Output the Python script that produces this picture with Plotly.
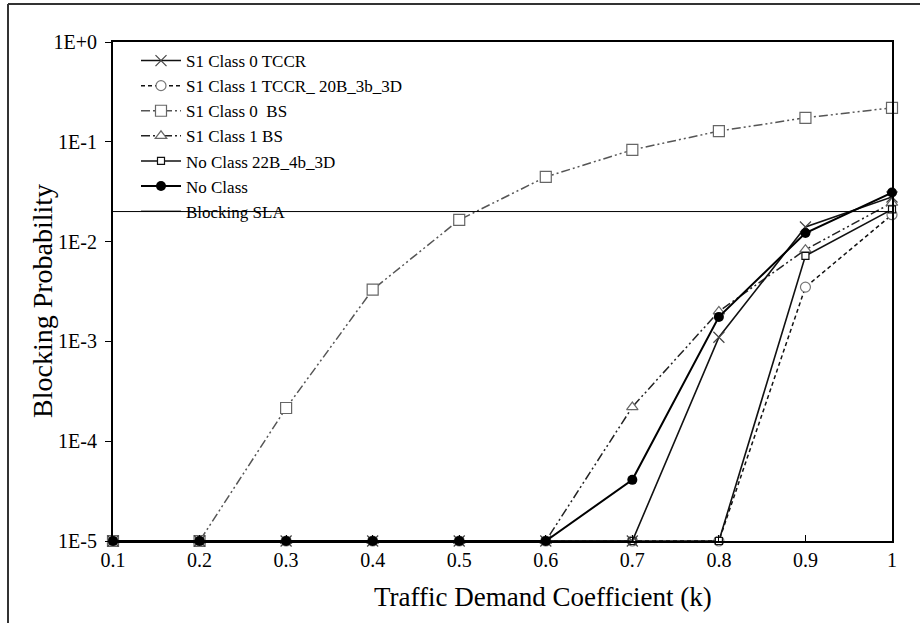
import plotly.graph_objects as go

k = [0.1, 0.2, 0.3, 0.4, 0.5, 0.6, 0.7, 0.8, 0.9, 1.0]
k_labels = ["0.1", "0.2", "0.3", "0.4", "0.5", "0.6", "0.7", "0.8", "0.9", "1"]

s1_class0_tccr = [1e-5, 1e-5, 1e-5, 1e-5, 1e-5, 1e-5, 1e-5, 1.1e-3, 0.014, 0.028]
s1_class1_tccr = [1e-5, 1e-5, 1e-5, 1e-5, 1e-5, 1e-5, 1e-5, 1e-5, 3.5e-3, 0.0186]
s1_class0_bs = [1e-5, 1e-5, 2.15e-4, 3.3e-3, 0.0165, 0.0445, 0.083, 0.128, 0.174, 0.219]
s1_class1_bs = [1e-5, 1e-5, 1e-5, 1e-5, 1e-5, 1e-5, 2.2e-4, 2.0e-3, 8.3e-3, 0.0245]
no_class_22b = [1e-5, 1e-5, 1e-5, 1e-5, 1e-5, 1e-5, 1e-5, 1e-5, 7.2e-3, 0.021]
no_class = [1e-5, 1e-5, 1e-5, 1e-5, 1e-5, 1e-5, 4.1e-5, 1.76e-3, 0.0122, 0.031]
sla_value = 0.02

y_tickvals = [1e-5, 1e-4, 1e-3, 1e-2, 1e-1, 1]
y_ticktext = ["1E-5", "1E-4", "1E-3", "1E-2", "1E-1", "1E+0"]

FONT = "Liberation Serif"
DASHDOTDOT = "9px,3px,2px,3px,2px,3px"

fig = go.Figure()

fig.add_trace(go.Scatter(
    x=k, y=s1_class0_bs, name="S1 Class 0  BS", mode="lines+markers",
    line=dict(color="#555555", width=1.5, dash=DASHDOTDOT),
    marker=dict(symbol="square", size=11, color="white", line=dict(color="#666666", width=1.2)),
    cliponaxis=False, legendrank=3))

fig.add_trace(go.Scatter(
    x=k, y=s1_class1_bs, name="S1 Class 1 BS", mode="lines+markers",
    line=dict(color="#222222", width=1.5, dash=DASHDOTDOT),
    marker=dict(symbol="triangle-up", size=10, color="white", line=dict(color="#666666", width=1.2)),
    cliponaxis=False, legendrank=4))

fig.add_trace(go.Scatter(
    x=k, y=s1_class1_tccr, name="S1 Class 1 TCCR_ 20B_3b_3D", mode="lines+markers",
    line=dict(color="#111111", width=1.5, dash="4px,3px"),
    marker=dict(symbol="circle", size=10, color="white", line=dict(color="#777777", width=1.2)),
    cliponaxis=False, legendrank=2))

fig.add_trace(go.Scatter(
    x=k, y=no_class_22b, name="No Class 22B_4b_3D", mode="lines+markers",
    line=dict(color="#111111", width=1.6),
    marker=dict(symbol="square", size=7, color="white", line=dict(color="#111111", width=1.2)),
    cliponaxis=False, legendrank=5))

fig.add_trace(go.Scatter(
    x=k, y=s1_class0_tccr, name="S1 Class 0 TCCR", mode="lines+markers",
    line=dict(color="#111111", width=1.6),
    marker=dict(symbol="x-thin", size=11, line=dict(color="#444444", width=1.2)),
    cliponaxis=False, legendrank=1))

fig.add_trace(go.Scatter(
    x=k, y=no_class, name="No Class", mode="lines+markers",
    line=dict(color="black", width=2),
    marker=dict(symbol="circle", size=10, color="black"),
    cliponaxis=False, legendrank=6))

fig.add_trace(go.Scatter(
    x=[k[0], k[-1]], y=[sla_value, sla_value], name="Blocking SLA", mode="lines",
    line=dict(color="black", width=1), legendrank=7))

L, R, T, B = 113, 28, 42, 82
W, H = 920, 623
pw = W - L - R
ph = H - T - B

def px2paper_x(px):
    return (px - L) / pw

def px2paper_y(py):
    return (H - B - py) / ph

fig.update_layout(
    width=W, height=H,
    margin=dict(l=L, r=R, t=T, b=B),
    paper_bgcolor="white", plot_bgcolor="white",
    font=dict(family=FONT, color="black", size=17),
    showlegend=True,
    legend=dict(x=px2paper_x(136), y=px2paper_y(43), xanchor="left", yanchor="top",
                bgcolor="rgba(0,0,0,0)", font=dict(family=FONT, size=17),
                tracegroupgap=0, itemwidth=40),
    xaxis=dict(range=[0.1, 1.0], tickvals=k, ticktext=k_labels,
               showgrid=False, zeroline=False, showline=True, linecolor="black",
               linewidth=2, mirror=True, ticks="inside", ticklen=6, tickcolor="black",
               tickfont=dict(family=FONT, size=20)),
    yaxis=dict(type="log", range=[-5, 0], tickvals=y_tickvals, ticktext=y_ticktext,
               showgrid=False, zeroline=False, showline=True, linecolor="black",
               linewidth=2, mirror=True, ticks="outside", ticklen=6, tickcolor="black",
               ticklabelstandoff=4, tickfont=dict(family=FONT, size=20)),
    annotations=[
        dict(text="Traffic Demand Coefficient (k)", xref="paper", yref="paper",
             x=px2paper_x(543), y=px2paper_y(597), xanchor="center", yanchor="middle",
             showarrow=False, font=dict(family=FONT, size=27)),
        dict(text="Blocking Probability", xref="paper", yref="paper",
             x=px2paper_x(42), y=px2paper_y(301), xanchor="center", yanchor="middle",
             textangle=-90, showarrow=False, font=dict(family=FONT, size=28)),
    ],
    shapes=[
        dict(type="line", xref="paper", yref="paper",
             x0=px2paper_x(8), x1=px2paper_x(8), y0=px2paper_y(4), y1=px2paper_y(640),
             line=dict(color="#333333", width=2)),
        dict(type="line", xref="paper", yref="paper",
             x0=px2paper_x(8), x1=px2paper_x(940), y0=px2paper_y(4), y1=px2paper_y(4),
             line=dict(color="#333333", width=2)),
    ],
)

fig.write_html("out.html")
